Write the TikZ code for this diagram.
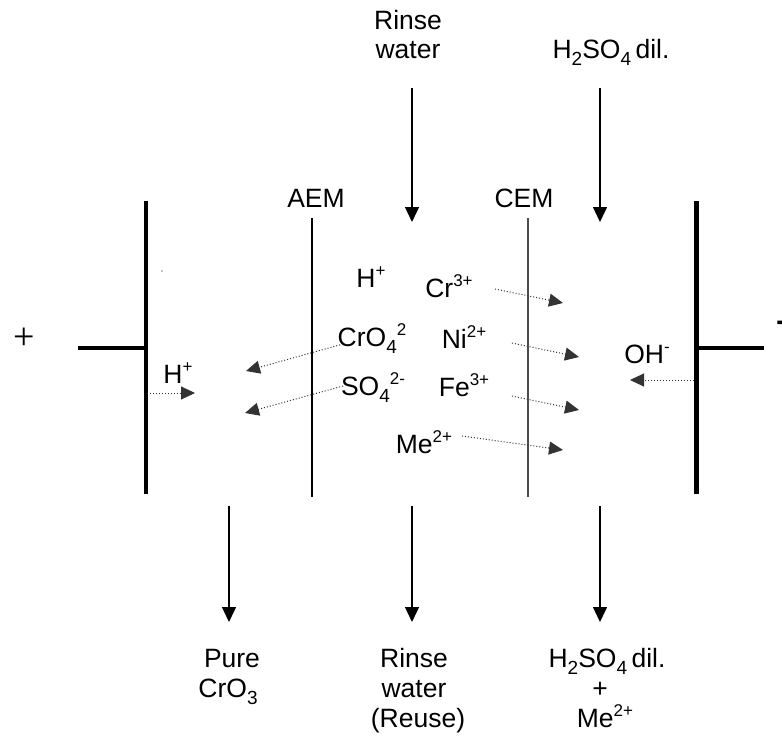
\documentclass[tikz,border=0pt]{standalone}
\usepackage{fontspec}
\setmainfont{Liberation Sans}
\newfontfamily\serifx{Liberation Serif}
\usetikzlibrary{arrows.meta}
\newcommand{\supx}[1]{\raisebox{0.40em}{\fontsize{17}{17}\selectfont #1}}
\newcommand{\subx}[1]{\raisebox{-0.30em}{\fontsize{19}{19}\selectfont #1}}
\begin{document}
\begin{tikzpicture}[x=1pt,y=-1pt,
  lbl/.style={font=\fontsize{26.5}{30}\selectfont, inner sep=0pt, anchor=base},
  flow/.style={line width=1.3pt, -{Triangle[width=14pt,length=15pt]}},
  ion/.style={line width=1pt, dotted, draw=black!80, -{Triangle[width=13pt,length=14pt]}},
  electrode/.style={line width=4.5pt},
  lead/.style={line width=4pt},
  membrane/.style={line width=1.2pt}]
\useasboundingbox (0,0) rectangle (782,737);

% electrodes
\draw[electrode] (146,201) coordinate (eLt) -- (146,494) coordinate (eLb);
\draw[lead] (78,348) coordinate (lL) -- (146,348) coordinate (lLe);
\draw[electrode] (696.5,201) coordinate (eRt) -- (696.5,494) coordinate (eRb);
\draw[lead] (696.5,348) coordinate (lRs) -- (764,348) coordinate (lR);
\node[font=\serifx\fontsize{38}{38}\selectfont, inner sep=0pt] (plus) at (24,339) {+};
\node[font=\fontsize{32}{32}\selectfont\bfseries, inner sep=0pt, anchor=west] (minus) at (776,327) {\symbol{"2212}};
\fill (162,271) circle (0.7);

% membranes
\draw[membrane] (312,218) coordinate (aemT) -- (312,497) coordinate (aemB);
\draw[membrane, draw=black!70] (528,218) coordinate (cemT) -- (528,497) coordinate (cemB);
\node[lbl] (aem) at (316,207) {AEM};
\node[lbl] (cem) at (524,207) {CEM};

% top inputs
\node[lbl] (rw1) at (408,29) {Rinse};
\node[lbl] (rw2) at (408,58) {water};
\node[lbl] (acid) at (611,58) {H\subx{2}SO\subx{4}\,dil.};
\coordinate (rwA) at (412,88); \coordinate (rwB) at (412,222);
\coordinate (acA) at (600,88); \coordinate (acB) at (600,222);
\draw[flow] (rwA) -- (rwB);
\draw[flow] (acA) -- (acB);

% ions
\node[lbl] (hp) at (371,287) {H\supx{+}};
\node[lbl] (cr) at (449,297) {Cr\supx{3+}};
\node[lbl] (cro) at (372,346) {CrO\subx{4}\supx{2}};
\node[lbl] (ni) at (464,348) {Ni\supx{2+}};
\node[lbl] (so) at (373,395) {SO\subx{4}\supx{2-}};
\node[lbl] (fe) at (464,396) {Fe\supx{3+}};
\node[lbl] (me) at (424,453) {Me\supx{2+}};
\node[lbl] (hl) at (178,383) {H\supx{+}};
\node[lbl] (oh) at (647,363) {OH\supx{-}};

\coordinate (crA) at (495,289); \coordinate (crB) at (563,303);
\coordinate (niA) at (512,343); \coordinate (niB) at (579,357);
\coordinate (feA) at (512,396); \coordinate (feB) at (579,410);
\coordinate (meA) at (462,436); \coordinate (meB) at (563,450);
\coordinate (croA) at (343,344); \coordinate (croB) at (246,371);
\coordinate (soA) at (343,386); \coordinate (soB) at (245,413);
\coordinate (hA) at (147,393); \coordinate (hB) at (195,393);
\coordinate (ohA) at (694,380); \coordinate (ohB) at (630,380);
\draw[ion] (crA) -- (crB);
\draw[ion] (niA) -- (niB);
\draw[ion] (feA) -- (feB);
\draw[ion] (meA) -- (meB);
\draw[ion] (croA) -- (croB);
\draw[ion] (soA) -- (soB);
\draw[ion] (hA) -- (hB);
\draw[ion] (ohA) -- (ohB);

% outputs
\coordinate (o1A) at (229,506); \coordinate (o1B) at (229,622);
\coordinate (o2A) at (412,506); \coordinate (o2B) at (412,622);
\coordinate (o3A) at (600,506); \coordinate (o3B) at (600,622);
\draw[flow] (o1A) -- (o1B);
\draw[flow] (o2A) -- (o2B);
\draw[flow] (o3A) -- (o3B);
\node[lbl] (p1) at (232,667) {Pure};
\node[lbl] (p2) at (228,697) {CrO\subx{3}};
\node[lbl] (r1) at (414,667) {Rinse};
\node[lbl] (r2) at (414,697) {water};
\node[lbl] (r3) at (418,727) {(Reuse)};
\node[lbl] (a1) at (607,667) {H\subx{2}SO\subx{4}\,dil.};
\node[lbl] (a2) at (600,697) {+};
\node[lbl] (a3) at (605,727) {Me\supx{2+}};
\end{tikzpicture}
\end{document}
